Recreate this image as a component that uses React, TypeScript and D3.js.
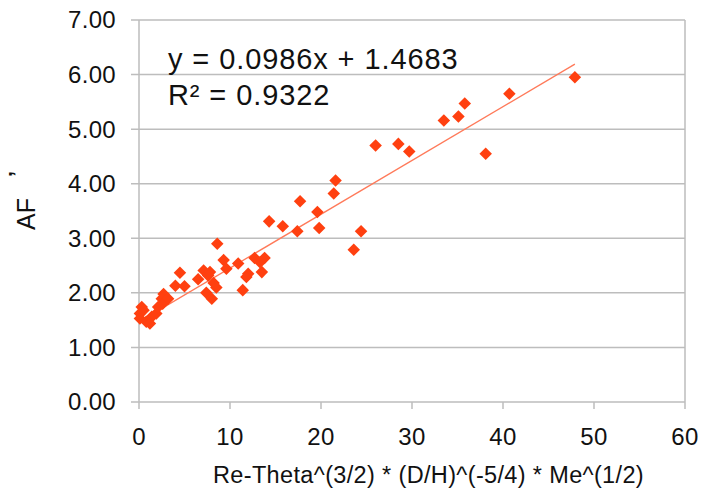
import React from "react";
import * as d3 from "d3";

const xValues = [
  47.9, 40.7, 35.8, 35.1, 33.5, 38.1, 26.0, 28.5, 29.7, 21.6, 21.4, 17.7, 19.6, 19.8, 17.4, 15.8, 14.3, 24.4, 23.6,
  8.6, 9.3, 10.9, 12.7, 13.8, 13.3, 12.0, 9.6, 13.5, 4.5, 7.1, 7.8, 11.8, 4.0, 5.0, 6.5, 7.6, 8.2, 8.5, 7.4, 8.0, 11.4,
  2.7, 2.5, 2.6, 3.2, 0.3, 0.1, 0.1, 0.8, 1.4, 1.9, 2.1, 1.2, 0.5,
];
const yValues = [
  5.95, 5.65, 5.47, 5.23, 5.16, 4.55, 4.70, 4.73, 4.59, 4.06, 3.82, 3.68, 3.48, 3.19, 3.13, 3.22, 3.31, 3.13, 2.79,
  2.90, 2.60, 2.54, 2.64, 2.64, 2.56, 2.35, 2.44, 2.38, 2.37, 2.41, 2.38, 2.29, 2.13, 2.12, 2.25, 2.32, 2.18, 2.10, 2.00, 1.89, 2.05,
  1.98, 1.89, 1.80, 1.89, 1.74, 1.62, 1.53, 1.47, 1.56, 1.62, 1.74, 1.44, 1.68,
];
const xTicks = [0, 10, 20, 30, 40, 50, 60];
const yTicks = [0, 1, 2, 3, 4, 5, 6, 7];
const slope = 0.0986;
const intercept = 1.4683;
const equationText = "y = 0.0986x + 1.4683";
const r2Text = "R² = 0.9322";
const xTitle = "Re-Theta^(3/2) * (D/H)^(-5/4) * Me^(1/2)";
const yTitle = "AF";

const W = 710;
const H = 491;
const left = 139;
const right = 685;
const top = 20;
const bottom = 402;
const FONT = "'Liberation Sans', Arial, sans-serif";
const GRID = "#bdbdbd";
const MARK = "#ff4010";
const TREND = "#ff7a5a";

export default function App() {
  const x = d3.scaleLinear().domain([0, 60]).range([left, right]);
  const y = d3.scaleLinear().domain([0, 7]).range([bottom, top]);
  const pts = xValues.map((v, i) => [v, yValues[i]] as [number, number]);
  const xMin = d3.min(xValues) as number;
  const xMax = d3.max(xValues) as number;
  const line = d3.line<number>().x((d) => x(d)).y((d) => y(slope * d + intercept));
  const diamond = d3.symbol().type(d3.symbolDiamond2).size(100)() as string;

  return (
    <svg
      width={W}
      height={H}
      style={{ position: "absolute", left: 0, top: 0, background: "#fff" }}
      fontFamily={FONT}
    >
      {yTicks.map((t) => (
        <g key={"y" + t}>
          <line x1={left - 8} x2={right} y1={y(t)} y2={y(t)} stroke={GRID} strokeWidth={1.5} />
          <text x={116} y={y(t)} dy="0.35em" fontSize={24} letterSpacing={0.3} textAnchor="end" fill="#111">
            {t.toFixed(2)}
          </text>
        </g>
      ))}
      <line x1={left} x2={left} y1={top} y2={bottom} stroke={GRID} strokeWidth={1.5} />
      <line x1={right} x2={right} y1={top} y2={bottom} stroke={GRID} strokeWidth={1.5} />
      {xTicks.map((t) => (
        <g key={"x" + t}>
          <line x1={x(t)} x2={x(t)} y1={bottom} y2={bottom + 7} stroke={GRID} strokeWidth={1.5} />
          <text x={x(t)} y={445} fontSize={24} letterSpacing={0.3} textAnchor="middle" fill="#111">
            {t}
          </text>
        </g>
      ))}
      <path d={line([xMin, xMax]) as string} stroke={TREND} strokeWidth={1.3} fill="none" />
      {pts.map((p, i) => (
        <path key={i} d={diamond} transform={`translate(${x(p[0])},${y(p[1])})`} fill={MARK} />
      ))}
      <text x={168} y={69} fontSize={29} letterSpacing={0.9} fill="#111">
        {equationText}
      </text>
      <text x={168} y={105} fontSize={29} letterSpacing={0.9} fill="#111">
        {r2Text}
      </text>
      <text x={213} y={483} fontSize={23.5} letterSpacing={0.35} fill="#111">
        {xTitle}
      </text>
      <text transform="translate(35,214) rotate(-90)" fontSize={25} textAnchor="middle" fill="#111">
        {yTitle}
      </text>
      <text transform="translate(24,174) rotate(-90)" fontSize={22} fontWeight="bold" textAnchor="middle" fill="#111">
        ’
      </text>
    </svg>
  );
}
